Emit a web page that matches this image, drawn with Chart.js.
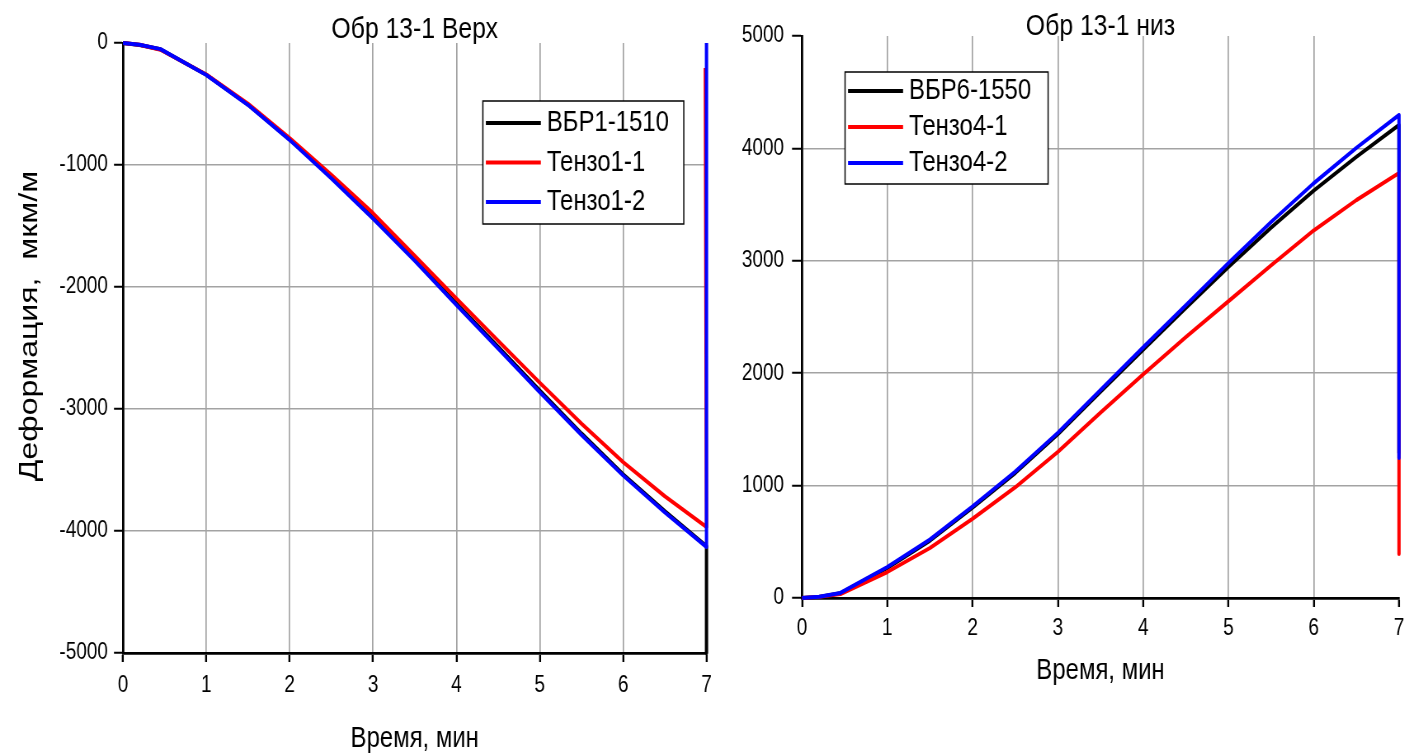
<!DOCTYPE html>
<html>
<head>
<meta charset="utf-8">
<script src="https://cdn.jsdelivr.net/npm/chart.js@4.4.1/dist/chart.umd.min.js"></script>
<style>
  body { margin: 0; background: #fff; overflow: hidden; }
  canvas { position: absolute; top: 0; }
  #upper { left: 0; }
  #lower { left: 720px; }
</style>
</head>
<body>
<canvas id="upper"></canvas>
<canvas id="lower"></canvas>
<script>
// ---- Обр 13-1 Верх (compressed face), мкм/м vs min ----
const timeTop    = [0, 0.2, 0.45, 1, 1.5, 2, 2.5, 3, 3.5, 4, 4.5, 5, 5.5, 6, 6.5, 7, 7];
const timeTopRed = [0, 0.2, 0.45, 1, 1.5, 2, 2.5, 3, 3.5, 4, 4.5, 5, 5.5, 6, 6.5, 7, 6.985];
const vbr1_1510  = [0, -16, -52, -260, -505, -790, -1100, -1428, -1775, -2135, -2490, -2848, -3200, -3535, -3838, -4125, -5000];
const tenzo1_1   = [0, -15, -55, -258, -498, -780, -1080, -1395, -1745, -2095, -2440, -2785, -3120, -3435, -3715, -3967, -205];
const tenzo1_2   = [0, -15, -50, -262, -508, -795, -1110, -1440, -1785, -2147, -2505, -2862, -3212, -3545, -3848, -4131, 0];
const yTicksTop  = [-5000, -4000, -3000, -2000, -1000, 0];

// ---- Обр 13-1 низ (tension face) ----
const timeBottom = [0, 0.2, 0.45, 1, 1.5, 2, 2.5, 3, 3.5, 4, 4.5, 5, 5.5, 6, 6.5, 7, 7];
const vbr6_1550  = [0, 10, 42, 268, 510, 805, 1112, 1458, 1835, 2210, 2580, 2945, 3295, 3625, 3925, 4208, 1290];
const tenzo4_1   = [0, 10, 35, 231, 445, 705, 985, 1300, 1650, 1990, 2320, 2640, 2960, 3270, 3540, 3781, 391];
const tenzo4_2   = [0, 12, 45, 276, 520, 815, 1125, 1470, 1850, 2230, 2605, 2980, 3345, 3690, 4005, 4297, 1245];
const yTicksBottom = [0, 1000, 2000, 3000, 4000, 5000];

const xTicks = [0, 1, 2, 3, 4, 5, 6, 7];

// the plots are drawn on a wider canvas and squeezed horizontally
const SQ = 0.825;
const sx = v => v / SQ;

const FONT = "'Liberation Sans', Arial, sans-serif";
const GRID = '#a3a3a3';

const pts = (t, v) => t.map((x, i) => ({ x, y: v[i] }));

function setupCanvas(id, cssWidth) {
  const c = document.getElementById(id);
  c.width = Math.round(cssWidth / SQ);
  c.height = 756;
  c.style.transformOrigin = '0 0';
  c.style.transform = `scaleX(${cssWidth / c.width})`;
  return c;
}

// header, rotated y caption and the boxed legend (option coords in screen px)
const panelText = {
  id: 'panelText',
  afterDraw(chart, args, o) {
    const { ctx, chartArea } = chart;
    ctx.save();
    ctx.fillStyle = '#000';
    ctx.textBaseline = 'middle';
    ctx.textAlign = 'center';
    ctx.font = `30px ${FONT}`;
    ctx.fillText(o.title, (chartArea.left + chartArea.right) / 2, o.titleY);

    if (o.yTitle) {
      ctx.save();
      ctx.translate(sx(o.yTitleX), o.yTitleY);
      ctx.rotate(-Math.PI / 2);
      ctx.font = `32px ${FONT}`;
      ctx.fillText(o.yTitle, 0, 0);
      ctx.restore();
    }

    const b = o.legend;
    ctx.fillStyle = '#fff';
    ctx.fillRect(sx(b.x), b.y, sx(b.w), b.h);
    ctx.lineWidth = 1.5;
    ctx.strokeStyle = '#000';
    ctx.strokeRect(sx(b.x), b.y, sx(b.w), b.h);
    ctx.textAlign = 'left';
    ctx.font = `29px ${FONT}`;
    chart.data.datasets.forEach((ds, i) => {
      const y = b.firstRow + i * b.rowStep;
      ctx.strokeStyle = ds.borderColor;
      ctx.lineWidth = 4;
      ctx.beginPath();
      ctx.moveTo(sx(b.x + 3), y);
      ctx.lineTo(sx(b.x + 58), y);
      ctx.stroke();
      ctx.fillStyle = '#000';
      ctx.fillText(ds.label, sx(b.x + 64), y);
    });
    ctx.restore();
  }
};

function panel(id, cssWidth, o) {
  const lastX = xTicks.length - 1;
  return new Chart(setupCanvas(id, cssWidth), {
    type: 'line',
    data: { datasets: o.datasets },
    options: {
      responsive: false,
      animation: false,
      layout: { padding: { left: 0, right: sx(o.padRight), top: o.padTop, bottom: o.padBottom } },
      elements: { line: { borderWidth: 4, tension: 0, borderJoinStyle: 'round' }, point: { radius: 0 } },
      datasets: { line: { clip: 6 } },
      plugins: {
        legend: { display: false },
        tooltip: { enabled: false },
        panelText: o.text
      },
      scales: {
        x: {
          type: 'linear',
          min: 0, max: 7,
          afterBuildTicks: s => { s.ticks = xTicks.map(v => ({ value: v })); },
          afterFit: s => { s.height = o.xHeight; },
          ticks: { color: '#000', font: { family: FONT, size: 23 }, padding: o.xPad, callback: v => String(v) },
          grid: {
            color: c => (c.index === 0 || c.index === lastX) ? 'transparent' : GRID,
            lineWidth: 1.7, tickColor: '#000', tickWidth: 2.4, tickLength: 9
          },
          border: { color: '#000', width: 2.8 },
          title: { display: true, text: 'Время, мин', color: '#000', font: { family: FONT, size: 29 }, padding: { top: 0, bottom: 0 } }
        },
        y: {
          type: 'linear',
          min: o.yTicks[0], max: o.yTicks[o.yTicks.length - 1],
          afterBuildTicks: s => { s.ticks = o.yTicks.map(v => ({ value: v })); },
          afterFit: s => { s.width = sx(o.yWidth); },
          ticks: { color: '#000', font: { family: FONT, size: 23 }, padding: sx(o.yPad), callback: v => String(v) },
          grid: {
            color: c => (c.index === o.yTicks.length - 1) ? 'transparent' : GRID,
            lineWidth: 1.5, tickColor: '#000', tickWidth: 2, tickLength: sx(o.yTickLen)
          },
          border: { color: '#000', width: 2.8 }
        }
      }
    },
    plugins: [panelText]
  });
}

panel('upper', 720, {
  padRight: 11, padTop: 43, padBottom: 0,
  xHeight: 103, yWidth: 123, xPad: 10, yPad: 6, yTickLen: 9,
  yTicks: yTicksTop,
  datasets: [
    { label: 'ВБР1-1510', data: pts(timeTop, vbr1_1510), borderColor: '#000000', order: 3 },
    { label: 'Тензо1-1', data: pts(timeTopRed, tenzo1_1), borderColor: '#ff0000', order: 2 },
    { label: 'Тензо1-2', data: pts(timeTop, tenzo1_2), borderColor: '#0000ff', order: 1 }
  ],
  text: {
    title: 'Обр 13-1 Верх', titleY: 30,
    yTitle: 'Деформация,  мкм/м', yTitleX: 30, yTitleY: 326,
    legend: { x: 483, y: 101, w: 201, h: 123, firstRow: 123, rowStep: 39.5 }
  }
});

panel('lower', 694, {
  padRight: 15, padTop: 36, padBottom: 68,
  xHeight: 90, yWidth: 82, xPad: 8, yPad: 8, yTickLen: 10,
  yTicks: yTicksBottom,
  datasets: [
    { label: 'ВБР6-1550', data: pts(timeBottom, vbr6_1550), borderColor: '#000000', order: 3 },
    { label: 'Тензо4-1', data: pts(timeBottom, tenzo4_1), borderColor: '#ff0000', order: 2 },
    { label: 'Тензо4-2', data: pts(timeBottom, tenzo4_2), borderColor: '#0000ff', order: 1 }
  ],
  text: {
    title: 'Обр 13-1 низ', titleY: 27,
    legend: { x: 125, y: 72, w: 203, h: 112, firstRow: 91, rowStep: 36 }
  }
});
</script>
</body>
</html>
